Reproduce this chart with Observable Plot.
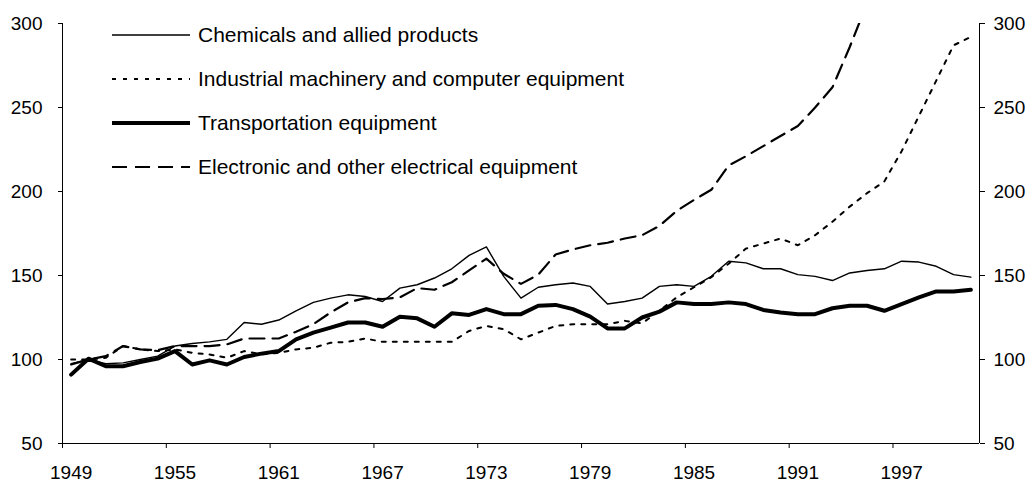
<!DOCTYPE html>
<html>
<head>
<meta charset="utf-8">
<script src="https://cdn.jsdelivr.net/npm/d3@7"></script>
<script src="https://cdn.jsdelivr.net/npm/@observablehq/plot@0.6"></script>
<style>
  body { margin: 0; background: #fff; }
  #chart { position: relative; width: 1032px; height: 481px; }
  #legend { position: absolute; left: 0; top: 0; pointer-events: none; }
</style>
</head>
<body>
<div id="chart"></div>
<script>
// ---------- data ----------
const years = [1949,1950,1951,1952,1953,1954,1955,1956,1957,1958,1959,1960,1961,1962,1963,1964,1965,1966,1967,1968,1969,1970,1971,1972,1973,1974,1975,1976,1977,1978,1979,1980,1981,1982,1983,1984,1985,1986,1987,1988,1989,1990,1991,1992,1993,1994,1995,1996,1997,1998,1999,2000,2001];

const chemicals = [97.5,100,97.5,98,100,102,108,109.5,110.5,112,122,121,123.5,129,134,136.5,138.5,137.5,134.5,142.5,144.5,148.5,154,162,167,149.5,136.5,143,144.5,145.5,143.5,133,134.5,136.5,143.5,144.5,143.5,149.5,158.5,157.5,154,154,150.5,149.5,147,151.5,153,154,158.5,158,155.5,150.5,149];

const industrial = [100,100,101,108,106,105,106,104,103,101,105,103,104,106,107,110,110.5,112.5,110.5,110.5,110.5,110.5,110.5,117,120,118,112,116,120,121,121,121,123,121.5,129,137,143,149,157,166,169,172,168,174,182,191,199,206,224,245,266,287,292];

const transportation = [91,100.5,96,96,98.5,100.5,105,97,99.5,97,101.5,103.5,105,112,116,119,122,122,119.5,125.5,124.5,119.5,127.5,126.5,130,127,127,132,132.5,130,125.5,118.5,118.5,125,128.5,134,133,133,134,133,129.5,128,127,127,130.5,132,132,129,133,137,140.5,140.5,141.5];

// continues above the 300 ceiling after 1995 (off the chart)
const electronic = [97,100,102,108,106,105.5,108,108,108,109,112.5,112.5,112.5,116.5,121,128,134,136.5,136,137,142.5,141.5,146,153,160,151,145,150.5,162.5,165.5,168,169.5,172,174,179.5,188.5,195,201,215.5,221,227,233,239,250,262,286,312];

const seriesNames = ["Chemicals and allied products", "Industrial machinery and computer equipment", "Transportation equipment", "Electronic and other electrical equipment"];
const yTicks = [50, 100, 150, 200, 250, 300];
const xLabelYears = [1949, 1955, 1961, 1967, 1973, 1979, 1985, 1991, 1997];

// ---------- styles ----------
const styles = [
  { stroke: "#000", strokeWidth: 1.4 },
  { stroke: "#000", strokeWidth: 2, strokeDasharray: "4,7" },
  { stroke: "#000", strokeWidth: 4 },
  { stroke: "#000", strokeWidth: 2.2, strokeDasharray: "15,8" }
];
const seriesValues = [chemicals, industrial, transportation, electronic];

const lineMarks = seriesValues.map((vals, k) =>
  Plot.line(vals, {
    x: (d, i) => years[i],
    y: d => d,
    clip: true,
    strokeLinejoin: "round",
    ...styles[k]
  })
);

const tickBounds = xLabelYears.map(y => y - 0.5);

const plot = Plot.plot({
  width: 1032,
  height: 481,
  marginLeft: 62,
  marginRight: 53,
  marginTop: 23,
  marginBottom: 38,
  style: { fontFamily: "'Liberation Sans', Arial, sans-serif", fontSize: "19px", color: "#000", background: "#fff", overflow: "visible" },
  x: { domain: [1948.5, 2001.5] },
  y: { domain: [50, 300] },
  marks: [
    Plot.axisY({ anchor: "left", ticks: yTicks, tickSize: 4, tickPadding: 16, label: null, tickFormat: d => String(d) }),
    Plot.axisY({ anchor: "right", ticks: yTicks, tickSize: 5, tickPadding: 9, label: null, tickFormat: d => String(d) }),
    Plot.axisX({ ticks: tickBounds, tickSize: 5, tickFormat: () => "", label: null }),
    Plot.axisX({ ticks: xLabelYears, tickSize: 0, tickPadding: 22, label: null, tickFormat: d => String(d) }),
    Plot.ruleX([1948.5, 2001.5], { stroke: "#000", strokeWidth: 1 }),
    Plot.ruleY([50], { stroke: "#000", strokeWidth: 1 }),
    ...lineMarks
  ]
});

const chart = document.getElementById("chart");
chart.appendChild(plot);

// ---------- legend (inside the plot area, top-left) ----------
const legend = d3.select(chart).append("svg")
  .attr("id", "legend")
  .attr("width", 1032)
  .attr("height", 481);
const rowY = [35, 79, 123, 167];
seriesNames.forEach((name, k) => {
  const g = legend.append("g").attr("transform", `translate(0,${rowY[k]})`);
  const ln = g.append("line")
    .attr("x1", 112).attr("x2", 190).attr("y1", 0).attr("y2", 0)
    .attr("stroke", styles[k].stroke)
    .attr("stroke-width", styles[k].strokeWidth);
  if (styles[k].strokeDasharray) ln.attr("stroke-dasharray", styles[k].strokeDasharray);
  g.append("text")
    .attr("x", 198).attr("y", 0)
    .attr("dy", "0.35em")
    .attr("font-family", "'Liberation Sans', Arial, sans-serif")
    .attr("font-size", 21)
    .attr("fill", "#000")
    .text(name);
});
</script>
</body>
</html>
